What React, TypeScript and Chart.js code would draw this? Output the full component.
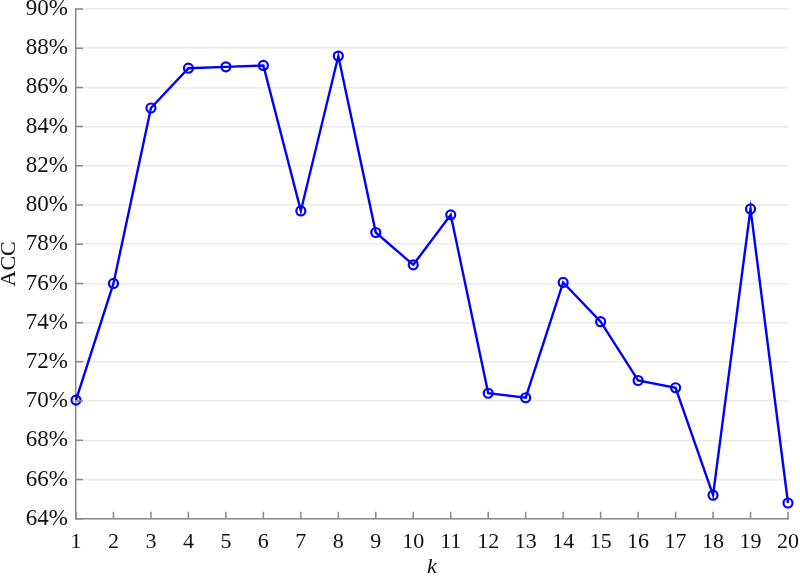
import React, { useEffect, useRef } from "react";
import { Chart, registerables } from "chart.js";

Chart.register(...registerables);

const kValues = [1, 2, 3, 4, 5, 6, 7, 8, 9, 10, 11, 12, 13, 14, 15, 16, 17, 18, 19, 20];
const accValues = [70.05, 76.0, 84.95, 86.98, 87.05, 87.12, 79.7, 87.6, 78.6, 76.95, 79.5, 70.4, 70.17, 76.05, 74.05, 71.05, 70.68, 65.2, 79.8, 64.8];
const yMin = 64;
const yMax = 90;
const yStep = 2;
const xLabel = "k";
const yLabel = "ACC";

const innerTicks = {
  id: "innerTicks",
  afterDraw(chart: any) {
    const { ctx, chartArea, scales } = chart;
    ctx.save();
    ctx.strokeStyle = "#8a8a8a";
    ctx.lineWidth = 1.5;
    ctx.beginPath();
    scales.x.ticks.forEach((t: any) => {
      const px = scales.x.getPixelForValue(t.value);
      ctx.moveTo(px, chartArea.bottom);
      ctx.lineTo(px, chartArea.bottom - 7);
    });
    scales.y.ticks.forEach((t: any) => {
      const py = scales.y.getPixelForValue(t.value);
      ctx.moveTo(chartArea.left, py);
      ctx.lineTo(chartArea.left + 7, py);
    });
    ctx.stroke();
    ctx.restore();
  },
};

const zeroPad = (s: any) => {
  s.paddingTop = 0;
  s.paddingBottom = 0;
  s.paddingLeft = 0;
  s.paddingRight = 0;
};

export default function App() {
  const ref = useRef<HTMLCanvasElement>(null);
  useEffect(() => {
    if (!ref.current) return;
    const font = "'Liberation Serif', 'Times New Roman', serif";
    const chart = new Chart(ref.current, {
      type: "line",
      data: {
        datasets: [
          {
            data: kValues.map((k, i) => ({ x: k, y: accValues[i] })),
            borderColor: "#0000ff",
            borderWidth: 2.4,
            pointRadius: 4.5,
            pointBorderWidth: 2.2,
            pointBorderColor: "#0000ff",
            pointBackgroundColor: "rgba(255,255,255,0)",
            tension: 0,
            clip: false as any,
          },
        ],
      },
      options: {
        animation: false,
        responsive: false,
        maintainAspectRatio: false,
        layout: { padding: { top: 9, right: 12, left: 0, bottom: 0 } },
        plugins: { legend: { display: false }, tooltip: { enabled: false } },
        scales: {
          x: {
            type: "linear",
            min: 1,
            max: 20,
            afterFit: (s: any) => {
              s.height = 57.3;
              zeroPad(s);
            },
            ticks: {
              stepSize: 1,
              padding: 10,
              color: "#111",
              font: { family: font, size: 22 },
              maxRotation: 0,
              autoSkip: false,
            },
            grid: { display: false, drawTicks: false },
            border: { display: true, color: "#8a8a8a", width: 1.5 },
            title: {
              display: true,
              text: xLabel,
              color: "#111",
              font: { family: font, size: 22, style: "italic", lineHeight: 0.8 },
              padding: { top: 0, bottom: 0 },
            },
          },
          y: {
            min: yMin,
            max: yMax,
            afterFit: (s: any) => {
              s.width = 76;
              zeroPad(s);
            },
            ticks: {
              stepSize: yStep,
              padding: 8,
              color: "#111",
              font: { family: font, size: 23 },
              callback: (v: any) => v + "%",
            },
            grid: { color: "#ebebeb", lineWidth: 1.5, drawTicks: false },
            border: { display: true, color: "#8a8a8a", width: 1.5 },
            title: {
              display: true,
              text: yLabel,
              color: "#111",
              font: { family: font, size: 22, lineHeight: 0.8 },
              padding: { top: 0, bottom: 0 },
            },
          },
        },
      },
      plugins: [innerTicks],
    });
    return () => chart.destroy();
  }, []);
  return (
    <div style={{ position: "fixed", left: 0, top: 0, width: 800, height: 576, background: "#fff" }}>
      <canvas ref={ref} width={800} height={576} style={{ width: 800, height: 576 }} />
    </div>
  );
}
